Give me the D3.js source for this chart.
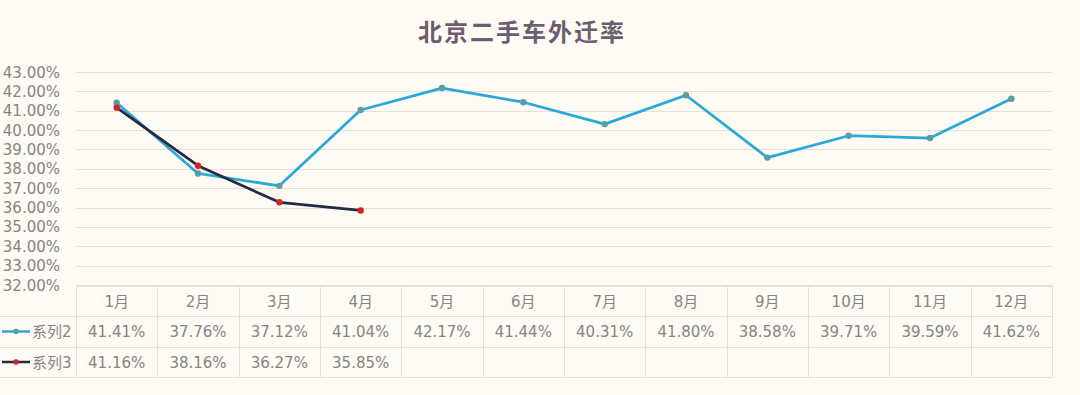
<!DOCTYPE html>
<html>
<head>
<meta charset="utf-8">
<script src="https://cdn.jsdelivr.net/npm/d3@7"></script>
<style>
  body { margin: 0; background: #fefaf4; }
  svg { display: block; font-family: "DejaVu Sans", "Noto Sans CJK SC", sans-serif; }
</style>
</head>
<body>
<svg id="chart" width="1080" height="395"></svg>
<script>
const months = ["1月","2月","3月","4月","5月","6月","7月","8月","9月","10月","11月","12月"];
const series2 = [41.41, 37.76, 37.12, 41.04, 42.17, 41.44, 40.31, 41.80, 38.58, 39.71, 39.59, 41.62];
const series3 = [41.16, 38.16, 36.27, 35.85];
const yTicks = [32, 33, 34, 35, 36, 37, 38, 39, 40, 41, 42, 43];
const seriesNames = ["系列2", "系列3"];

const svg = d3.select("#chart");
const W = 1080, H = 395;

svg.append("rect").attr("width", W).attr("height", H).attr("fill", "#fefaf4");

// title
svg.append("text")
    .attr("x", 522).attr("y", 41)
    .attr("text-anchor", "middle")
    .attr("font-family", "Noto Sans CJK SC")
    .attr("font-size", 24)
    .attr("font-weight", "bold")
    .attr("letter-spacing", 2)
    .attr("fill", "#6e5c70")
    .text("北京二手车外迁率");

const x = d3.scaleBand().domain(months).range([76, 1052]);
const y = d3.scaleLinear().domain([32, 43]).range([285, 72]);

const gridColor = "#e6e1d8";
const textColor = "#858585";

// gridlines
svg.append("g")
    .selectAll("line")
    .data(yTicks)
    .enter()
    .append("line")
    .attr("x1", 76).attr("x2", 1052)
    .attr("y1", d => Math.round(y(d)) + 0.5)
    .attr("y2", d => Math.round(y(d)) + 0.5)
    .attr("stroke", gridColor)
    .attr("stroke-width", 1);

// y labels
svg.append("g")
    .selectAll("text")
    .data(yTicks)
    .enter()
    .append("text")
    .attr("x", 60)
    .attr("y", d => y(d) + 5.5)
    .attr("text-anchor", "end")
    .attr("font-size", 15)
    .attr("fill", textColor)
    .text(d => d.toFixed(2) + "%");

// table
const rowY = [286, 316, 347, 377];
const table = svg.append("g");

// horizontal table lines
table.append("line").attr("x1", 76).attr("x2", 1052)
    .attr("y1", rowY[0] + 0.5).attr("y2", rowY[0] + 0.5)
    .attr("stroke", gridColor);
rowY.slice(1).forEach(ry => {
    table.append("line").attr("x1", 0).attr("x2", 1052)
        .attr("y1", ry + 0.5).attr("y2", ry + 0.5)
        .attr("stroke", gridColor);
});
// vertical table lines
const bounds = months.map(m => x(m)).concat([x.range()[1]]);
table.selectAll(".vline")
    .data(bounds)
    .enter()
    .append("line")
    .attr("class", "vline")
    .attr("x1", d => Math.round(d) + 0.5).attr("x2", d => Math.round(d) + 0.5)
    .attr("y1", rowY[0]).attr("y2", rowY[3])
    .attr("stroke", gridColor);

const cellText = (row, data, fmt) => table.append("g")
    .selectAll("text")
    .data(data)
    .enter()
    .append("text")
    .attr("x", (d, i) => x(months[i]) + x.bandwidth() / 2)
    .attr("y", (rowY[row] + rowY[row + 1]) / 2 + 5.5)
    .attr("text-anchor", "middle")
    .attr("font-size", 15)
    .attr("fill", textColor)
    .text(fmt);

cellText(0, months, d => d);
cellText(1, series2, d => d.toFixed(2) + "%");
cellText(2, series3, d => d.toFixed(2) + "%");

// legend keys in table
const styles = [
    { line: "#2aa9d9", marker: "#5b9ea2", data: series2 },
    { line: "#272a42", marker: "#d32424", data: series3 }
];
styles.forEach((s, k) => {
    const cy = (rowY[k + 1] + rowY[k + 2]) / 2;
    table.append("line").attr("x1", 2).attr("x2", 30)
        .attr("y1", cy).attr("y2", cy)
        .attr("stroke", s.line).attr("stroke-width", 2.5);
    table.append("circle").attr("cx", 16).attr("cy", cy).attr("r", 2.8)
        .attr("fill", s.marker);
    table.append("text").attr("x", 32).attr("y", cy + 5.5)
        .attr("font-size", 15).attr("fill", textColor)
        .text(seriesNames[k]);
});

// lines
const line = d3.line()
    .x((d, i) => x(months[i]) + x.bandwidth() / 2)
    .y(d => y(d));

styles.forEach(s => {
    const g = svg.append("g");
    g.append("path")
        .datum(s.data)
        .attr("d", line)
        .attr("fill", "none")
        .attr("stroke", s.line)
        .attr("stroke-width", 2.75)
        .attr("stroke-linejoin", "round");
    g.selectAll("circle")
        .data(s.data)
        .enter()
        .append("circle")
        .attr("cx", (d, i) => x(months[i]) + x.bandwidth() / 2)
        .attr("cy", d => y(d))
        .attr("r", 3.2)
        .attr("fill", s.marker);
});
</script>
</body>
</html>
